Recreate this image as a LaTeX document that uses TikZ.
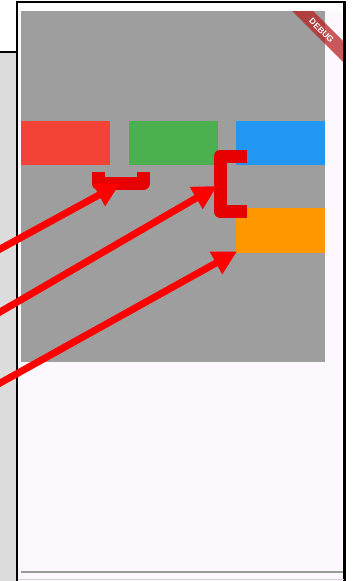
\documentclass[tikz,border=0pt]{standalone}
\usepackage{fontspec}
\setsansfont{Liberation Sans}
\usetikzlibrary{arrows.meta}

\definecolor{panelgray}{HTML}{DCDCDC}
\definecolor{appbg}{HTML}{FDF7FE}
\definecolor{canvasgray}{HTML}{9E9E9E}
\definecolor{tilered}{HTML}{F44336}
\definecolor{tilegreen}{HTML}{4CAF50}
\definecolor{tileblue}{HTML}{2196F3}
\definecolor{tileorange}{HTML}{FF9800}
\definecolor{bracketred}{HTML}{E60000}
\definecolor{bannerred}{HTML}{B71C1C}
\definecolor{navline}{HTML}{9A9A9A}
\definecolor{edgeline}{HTML}{CFCFCF}

\begin{document}
\begin{tikzpicture}[x=1pt,y=-1pt,
  tile/.style={draw=none, inner sep=0pt, minimum width=89pt,
               minimum height=43.5pt, anchor=north west},
  callout/.style={draw=red, line width=7pt,
                  -{Triangle[length=24pt,width=24pt]}},
  bracketmark/.style={draw=bracketred, line width=13pt, line join=round},
  frameline/.style={draw=black, line width=2.2pt},
]
\useasboundingbox (0,0) rectangle (353,581);
\clip (0,0) rectangle (353,581);

% page background and side panel
\fill[white] (0,0) rectangle (353,581);
\fill[panelgray] (0,52) rectangle (17.2,581);
\draw[frameline] (0,52) -- (17.2,52);

% device screen
\fill[appbg] (17.2,2) rectangle (344.5,590);
\fill[white] (17.2,2) rectangle (344.5,11);
\draw[frameline] (17.2,600) -- (17.2,2) -- (344.5,2) -- (344.5,600);

% grey canvas with the coloured tiles
\fill[canvasgray] (21,11) rectangle (325,362);
\node[tile, fill=tilered]    (red)    at (21,121)  {};
\node[tile, fill=tilegreen]  (green)  at (128.5,121) {};
\node[tile, fill=tileblue]   (blue)   at (236,121) {};
\node[tile, fill=tileorange, minimum height=45pt] (orange) at (236,208) {};

% bottom navigation edge
\draw[navline, line width=1.2pt] (21,572) -- (343,572);
\draw[edgeline, line width=1pt] (18,579.5) -- (343.5,579.5);

% debug banner
\begin{scope}
  \clip (21,11) rectangle (343.4,575);
  \fill[bannerred, fill opacity=0.72] (292,11) -- (313,11) -- (343.4,41.4) -- (343.4,62.4) -- cycle;
  \node[rotate=-45, text=white, inner sep=0pt,
        font=\sffamily\bfseries\fontsize{8.5}{8.5}\selectfont] (banner) at (321.5,30.5) {DEBUG};
\end{scope}

% brackets marking the gaps
\draw[bracketmark] (98.5,172) -- (98.5,183.5) -- (143.5,183.5) -- (143.5,172);
\draw[bracketmark] (247,156) -- (220,156) -- (220,211.5) -- (247,211.5);
\coordinate (gapH) at (120,183.5);
\coordinate (gapV) at (217,186);

% callout arrows entering from the left
\coordinate (s1) at (-10,254.5);
\coordinate (s2) at (-10,317.8);
\coordinate (s3) at (-10,388.6);
\draw[callout] (s1) -- (gapH);
\draw[callout] (s2) -- (gapV);
\draw[callout] (s3) -- ([shift={(1,-2)}]orange.south west);
\end{tikzpicture}
\end{document}
